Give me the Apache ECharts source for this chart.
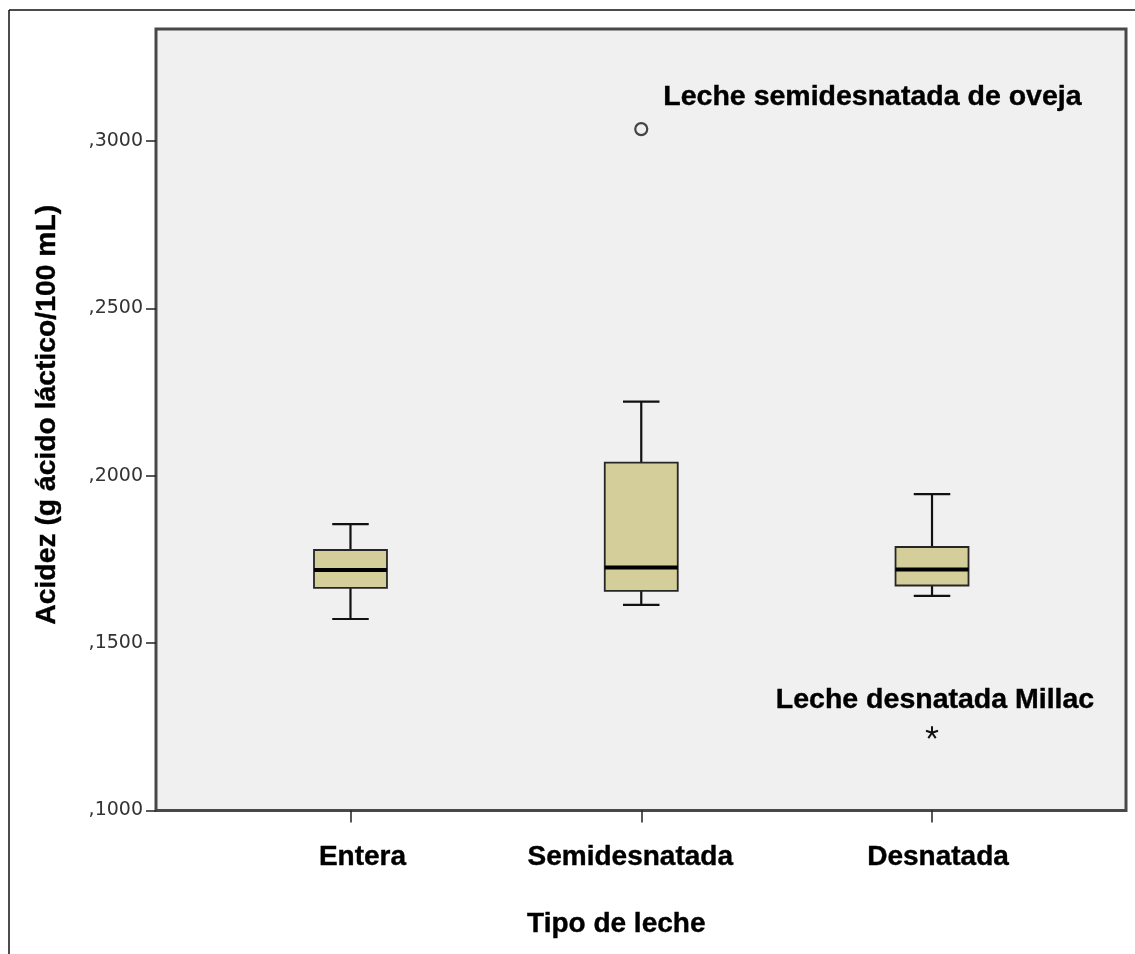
<!DOCTYPE html>
<html>
<head>
<meta charset="utf-8">
<script src="https://cdn.jsdelivr.net/npm/echarts@6/dist/echarts.min.js"></script>
<style>
  html, body { margin: 0; padding: 0; background: #ffffff; }
  #chart { width: 1135px; height: 954px; }
</style>
</head>
<body>
<div id="chart"></div>
<script>
// Acidez de la leche por tipo (g ácido láctico / 100 mL)
const categories   = ['Entera', 'Semidesnatada', 'Desnatada'];
const whiskerLow   = [0.1572, 0.1614, 0.1641];
const quartile1    = [0.1665, 0.1656, 0.1672];
const medians      = [0.1718, 0.1726, 0.1720];
const quartile3    = [0.1778, 0.2039, 0.1787];
const whiskerHigh  = [0.1855, 0.2221, 0.1945];

// Valores atípicos (círculo) y extremos (asterisco)
const outlierCategory = [1];
const outlierValues   = [0.3035];
const outlierNames    = ['Leche semidesnatada de oveja'];
const extremeCategory = [2];
const extremeValues   = [0.1234];
const extremeNames    = ['Leche desnatada Millac'];

const yTicks = [0.10, 0.15, 0.20, 0.25, 0.30];

const boldFont = 'Liberation Sans, Arial, sans-serif';
const tickFont = 'DejaVu Sans, Verdana, sans-serif';

// pequeño desplazamiento horizontal de cada etiqueta de categoría
const labelPads = [[0, 0, 0, 24], [0, 22, 0, 0], [0, 0, 0, 12]];

const boxData = categories.map((c, i) =>
  [i, whiskerLow[i], quartile1[i], medians[i], quartile3[i], whiskerHigh[i]]);
const outlierData = outlierValues.map((v, i) => ({ name: outlierNames[i], value: [outlierCategory[i], v] }));
const extremeData = extremeValues.map((v, i) => ({ name: extremeNames[i], value: [extremeCategory[i], v] }));

// Caja con bigotes dibujada con la escala del eje
function renderBox(params, api) {
  const xi = api.value(0);
  const cx = api.coord([xi, api.value(3)])[0];
  const yLow = api.coord([xi, api.value(1)])[1];
  const yQ1 = api.coord([xi, api.value(2)])[1];
  const yMed = api.coord([xi, api.value(3)])[1];
  const yQ3 = api.coord([xi, api.value(4)])[1];
  const yHigh = api.coord([xi, api.value(5)])[1];
  const band = api.size([1, 0])[0];
  const boxW = band * 0.251;
  const capW = boxW / 2;
  const lineStyle = { stroke: '#111111', lineWidth: 2.2 };
  return {
    type: 'group',
    children: [
      { type: 'line', shape: { x1: cx, y1: yLow, x2: cx, y2: yQ1 }, style: lineStyle },
      { type: 'line', shape: { x1: cx, y1: yQ3, x2: cx, y2: yHigh }, style: lineStyle },
      { type: 'line', shape: { x1: cx - capW / 2, y1: yLow, x2: cx + capW / 2, y2: yLow }, style: lineStyle },
      { type: 'line', shape: { x1: cx - capW / 2, y1: yHigh, x2: cx + capW / 2, y2: yHigh }, style: lineStyle },
      { type: 'rect', shape: { x: cx - boxW / 2, y: yQ3, width: boxW, height: yQ1 - yQ3 },
        style: { fill: '#d4cf9a', stroke: '#262626', lineWidth: 1.8 } },
      { type: 'line', shape: { x1: cx - boxW / 2, y1: yMed, x2: cx + boxW / 2, y2: yMed },
        style: { stroke: '#000000', lineWidth: 4 } }
    ]
  };
}

const chart = echarts.init(document.getElementById('chart'), null, { renderer: 'canvas' });

const gridLeft = 205.1, gridRight = 57.6, gridTop = 29, gridBottom = 143.5;

const boldLabel = {
  fontFamily: boldFont, fontWeight: 'bold', color: '#000',
  textBorderColor: '#000', textBorderWidth: 0.4
};

chart.setOption({
  backgroundColor: '#ffffff',
  animation: false,
  graphic: [
    // marco exterior
    { type: 'line', z: 0, shape: { x1: 9, y1: 10, x2: 1135, y2: 10 }, style: { stroke: '#111', lineWidth: 1.5 } },
    { type: 'line', z: 0, shape: { x1: 9, y1: 10, x2: 9, y2: 954 }, style: { stroke: '#111', lineWidth: 1.5 } },
    // área de trazado
    { type: 'rect', z: -1, shape: { x: 156, y: 29, width: 970, height: 781.5 },
      style: { fill: '#f0f0f0', stroke: '#484848', lineWidth: 3 } }
  ],
  grid: { left: gridLeft, right: gridRight, top: gridTop, bottom: gridBottom, containLabel: false },
  xAxis: {
    type: 'category',
    data: categories.map((c, i) => ({ value: c, textStyle: { padding: labelPads[i] } })),
    boundaryGap: true,
    name: 'Tipo de leche',
    nameLocation: 'middle',
    nameGap: 100,
    nameTextStyle: Object.assign({ fontSize: 28, padding: [0, 50, 0, 0] }, boldLabel),
    axisLine: { show: false },
    axisTick: { show: true, alignWithLabel: true, length: 12, lineStyle: { color: '#222', width: 1.5 } },
    axisLabel: Object.assign({ margin: 33, fontSize: 28 }, boldLabel),
    splitLine: { show: false }
  },
  yAxis: {
    type: 'value',
    min: 0.1,
    max: 0.3334,
    offset: gridLeft - 156,
    name: 'Acidez (g ácido láctico/100 mL)',
    nameLocation: 'middle',
    nameGap: 95,
    nameRotate: 90,
    nameTextStyle: Object.assign({ fontSize: 28.3, padding: [0, 0, 0, 10] }, boldLabel),
    axisLine: { show: false },
    axisTick: { show: true, length: 10, customValues: yTicks, lineStyle: { color: '#222', width: 1.5 } },
    axisLabel: {
      customValues: yTicks,
      margin: 13,
      fontFamily: tickFont,
      fontSize: 19,
      color: '#333',
      formatter: v => v.toFixed(4).replace(/^0\./, ',')
    },
    splitLine: { show: false }
  },
  series: [
    {
      type: 'custom',
      renderItem: renderBox,
      encode: { x: 0, y: [1, 2, 3, 4, 5] },
      data: boxData,
      z: 3
    },
    {
      type: 'scatter',
      symbol: 'circle',
      symbolSize: 12,
      itemStyle: { color: '#f0f0f0', borderColor: '#444', borderWidth: 2.2, opacity: 1 },
      label: Object.assign({
        show: true, position: 'right', distance: 15, offset: [0, -32],
        formatter: p => p.name, fontSize: 28.5, opacity: 1
      }, boldLabel),
      data: outlierData,
      z: 4
    },
    {
      type: 'scatter',
      symbol: 'path://M0 0 L0 -10 M0 0 L9.51 -3.09 M0 0 L5.88 8.09 M0 0 L-5.88 8.09 M0 0 L-9.51 -3.09',
      symbolSize: 12,
      itemStyle: { color: 'none', borderColor: '#111', borderWidth: 2, opacity: 1 },
      label: Object.assign({
        show: true, position: 'top', distance: 9, offset: [3, 0],
        formatter: p => p.name, fontSize: 28.5, opacity: 1
      }, boldLabel),
      data: extremeData,
      z: 4
    }
  ]
});
</script>
</body>
</html>
